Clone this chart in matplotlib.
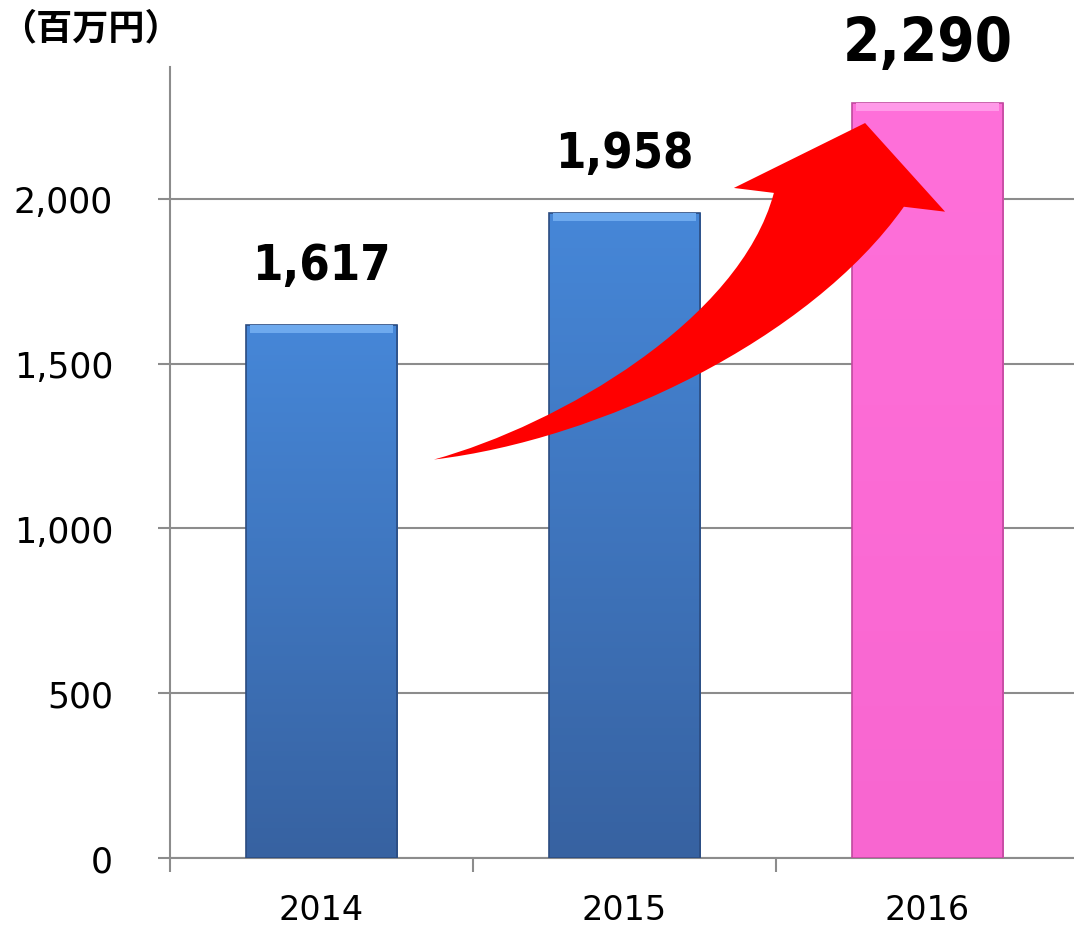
import numpy as np
import matplotlib.pyplot as plt
from matplotlib.path import Path
from matplotlib.patches import PathPatch
from matplotlib.colors import LinearSegmentedColormap

# data
years = ['2014', '2015', '2016']
sales = [1617, 1958, 2290]
yticks = [0, 500, 1000, 1500, 2000]
ytick_labels = ['0', '500', '1,000', '1,500', '2,000']
value_labels = ['1,617', '1,958', '2,290']
unit_label = '（百万円）'

plt.rcParams['font.family'] = ['DejaVu Sans', 'Noto Sans CJK JP']

grid_col = '#8c8c8c'
blue_cmap = LinearSegmentedColormap.from_list('blue', ['#3762a1', '#4687d8'])
pink_cmap = LinearSegmentedColormap.from_list('pink', ['#f866d0', '#ff70da'])

fig = plt.figure(figsize=(10.74, 9.29), dpi=100)
ax = fig.add_axes([170 / 1074, 70 / 929, 909 / 1074, 791 / 929])

x = np.arange(len(years))
bars = ax.bar(x, sales, width=0.5, zorder=3,
              edgecolor=['#2b4c80', '#2b4c80', '#c04a9e'], linewidth=1.2)

# vertical gradient fill clipped to each bar
grad = np.linspace(0, 1, 256).reshape(-1, 1)
for i, b in enumerate(bars):
    cmap = pink_cmap if i == 2 else blue_cmap
    x0, w, h = b.get_x(), b.get_width(), b.get_height()
    im = ax.imshow(grad, cmap=cmap, origin='lower', aspect='auto',
                   extent=[x0, x0 + w, 0, h], zorder=3.1)
    im.set_clip_path(b)
    b.set_facecolor('none')
    b.set_zorder(3.2)
    # bevel highlight on top
    hi = '#ff9ae8' if i == 2 else '#6eaaee'
    ax.bar(x[i], 24, bottom=h - 24, width=w * 0.94, color=hi,
           linewidth=0, zorder=3.3)

# curved red arrow
verts = [(0.371, 1209), (0.787, 1315), (1.381, 1633), (1.493, 2018),
         (1.361, 2033), (1.794, 2230), (2.058, 1961), (1.922, 1976),
         (1.612, 1573), (0.919, 1269), (0.371, 1209), (0.371, 1209)]
codes = [Path.MOVETO, Path.CURVE4, Path.CURVE4, Path.CURVE4,
         Path.LINETO, Path.LINETO, Path.LINETO, Path.LINETO,
         Path.CURVE4, Path.CURVE4, Path.CURVE4, Path.CLOSEPOLY]
arrow = PathPatch(Path(verts, codes), facecolor='#ff0000', edgecolor='none', zorder=5)
ax.add_patch(arrow)

# value labels
sizes = [35, 35, 43]
for i, v in enumerate(sales):
    ax.annotate(value_labels[i], (x[i], v), xytext=(0, 43), textcoords='offset points',
                ha='center', va='center', fontsize=sizes[i], fontweight='bold',
                fontstretch='condensed', zorder=6)

ax.set_xlim(-0.5, 2.5)
ax.set_ylim(0, 2400)
ax.set_yticks(yticks)
ax.set_yticklabels(ytick_labels, fontsize=25)
ax.set_xticks(x)
ax.set_xticklabels(years, fontsize=24)
ax.set_xticks([-0.5, 0.5, 1.5], minor=True)
ax.tick_params(axis='x', which='major', length=0, pad=25)
ax.tick_params(axis='x', which='minor', length=10, width=1.5, color=grid_col, direction='out')
ax.tick_params(axis='y', length=9, width=1.5, color=grid_col, pad=32)
ax.yaxis.grid(True, color=grid_col, linewidth=1.5, zorder=0)
ax.set_axisbelow(True)
for s in ['top', 'right']:
    ax.spines[s].set_visible(False)
for s in ['left', 'bottom']:
    ax.spines[s].set_color(grid_col)
    ax.spines[s].set_linewidth(1.5)

fig.text(0, 1 - 29 / 929, unit_label, fontsize=26, fontweight='bold',
         family=['Noto Sans CJK JP'], ha='left', va='center')

fig.savefig('out.png', dpi=100)
